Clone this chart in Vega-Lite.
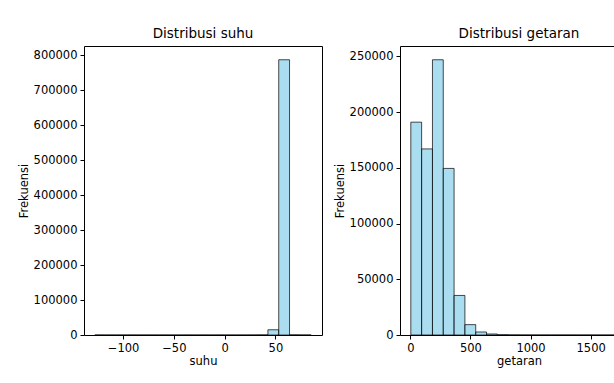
{
  "$schema": "https://vega.github.io/schema/vega-lite/v6.json",
  "padding": {"left": 17, "top": 26, "right": 0, "bottom": 0},
  "background": "white",
  "spacing": 10,
  "config": {
    "font": "DejaVu Sans",
    "view": {"stroke": "black", "strokeWidth": 1},
    "axis": {
      "grid": false,
      "domain": false,
      "tickColor": "black",
      "tickSize": 4,
      "labelColor": "black",
      "labelFontSize": 11.5,
      "labelFont": "DejaVu Sans",
      "labelPadding": 3,
      "titleColor": "black",
      "titleFontSize": 11.5,
      "titleFont": "DejaVu Sans",
      "titleFontWeight": "normal"
    },
    "axisX": {"titlePadding": 2},
    "title": {"fontSize": 13.5, "font": "DejaVu Sans", "fontWeight": "normal", "color": "black", "offset": 6}
  },
  "datasets": {
    "suhu": [
      {"start": -127.8, "end": -117.15, "count": 0},
      {"start": -117.15, "end": -106.5, "count": 0},
      {"start": -106.5, "end": -95.85, "count": 0},
      {"start": -95.85, "end": -85.2, "count": 0},
      {"start": -85.2, "end": -74.55, "count": 0},
      {"start": -74.55, "end": -63.9, "count": 0},
      {"start": -63.9, "end": -53.25, "count": 0},
      {"start": -53.25, "end": -42.6, "count": 0},
      {"start": -42.6, "end": -31.95, "count": 0},
      {"start": -31.95, "end": -21.3, "count": 0},
      {"start": -21.3, "end": -10.65, "count": 0},
      {"start": -10.65, "end": 0, "count": 0},
      {"start": 0, "end": 10.65, "count": 0},
      {"start": 10.65, "end": 21.3, "count": 0},
      {"start": 21.3, "end": 31.95, "count": 0},
      {"start": 31.95, "end": 42.6, "count": 200},
      {"start": 42.6, "end": 53.25, "count": 15000},
      {"start": 53.25, "end": 63.9, "count": 787000},
      {"start": 63.9, "end": 74.55, "count": 300},
      {"start": 74.55, "end": 85.2, "count": 10}
    ],
    "getaran": [
      {"start": 4, "end": 94, "count": 191000},
      {"start": 94, "end": 184, "count": 167000},
      {"start": 184, "end": 274, "count": 247000},
      {"start": 274, "end": 364, "count": 149500},
      {"start": 364, "end": 454, "count": 35500},
      {"start": 454, "end": 544, "count": 9300},
      {"start": 544, "end": 634, "count": 2700},
      {"start": 634, "end": 724, "count": 900},
      {"start": 724, "end": 814, "count": 250},
      {"start": 814, "end": 904, "count": 80},
      {"start": 904, "end": 994, "count": 30},
      {"start": 994, "end": 1084, "count": 12},
      {"start": 1084, "end": 1174, "count": 5},
      {"start": 1174, "end": 1264, "count": 2},
      {"start": 1264, "end": 1354, "count": 1},
      {"start": 1354, "end": 1444, "count": 0},
      {"start": 1444, "end": 1534, "count": 0},
      {"start": 1534, "end": 1624, "count": 0},
      {"start": 1624, "end": 1714, "count": 0},
      {"start": 1714, "end": 1804, "count": 1}
    ]
  },
  "hconcat": [
    {
      "width": 238,
      "height": 289,
      "title": "Distribusi suhu",
      "data": {"name": "suhu"},
      "mark": {"type": "bar", "fill": "#87CEEB", "fillOpacity": 0.7, "stroke": "black", "strokeOpacity": 0.7, "strokeWidth": 1, "clip": true},
      "encoding": {
        "x": {"field": "start", "type": "quantitative", "title": "suhu",
              "scale": {"domain": [-138.45, 95.85], "nice": false, "zero": false},
              "axis": {"values": [-100, -50, 0, 50], "format": "d"}},
        "x2": {"field": "end"},
        "y": {"field": "count", "type": "quantitative", "title": "Frekuensi",
              "scale": {"domain": [0, 826350], "nice": false},
              "axis": {"values": [0, 100000, 200000, 300000, 400000, 500000, 600000, 700000, 800000], "format": "d"}},
        "y2": {"datum": 0}
      }
    },
    {
      "width": 238,
      "height": 289,
      "title": "Distribusi getaran",
      "data": {"name": "getaran"},
      "mark": {"type": "bar", "fill": "#87CEEB", "fillOpacity": 0.7, "stroke": "black", "strokeOpacity": 0.7, "strokeWidth": 1, "clip": true},
      "encoding": {
        "x": {"field": "start", "type": "quantitative", "title": "getaran",
              "scale": {"domain": [-86, 1894], "nice": false, "zero": false},
              "axis": {"values": [0, 500, 1000, 1500], "format": "d"}},
        "x2": {"field": "end"},
        "y": {"field": "count", "type": "quantitative", "title": "Frekuensi",
              "scale": {"domain": [0, 259350], "nice": false},
              "axis": {"values": [0, 50000, 100000, 150000, 200000, 250000], "format": "d"}},
        "y2": {"datum": 0}
      }
    }
  ]
}
